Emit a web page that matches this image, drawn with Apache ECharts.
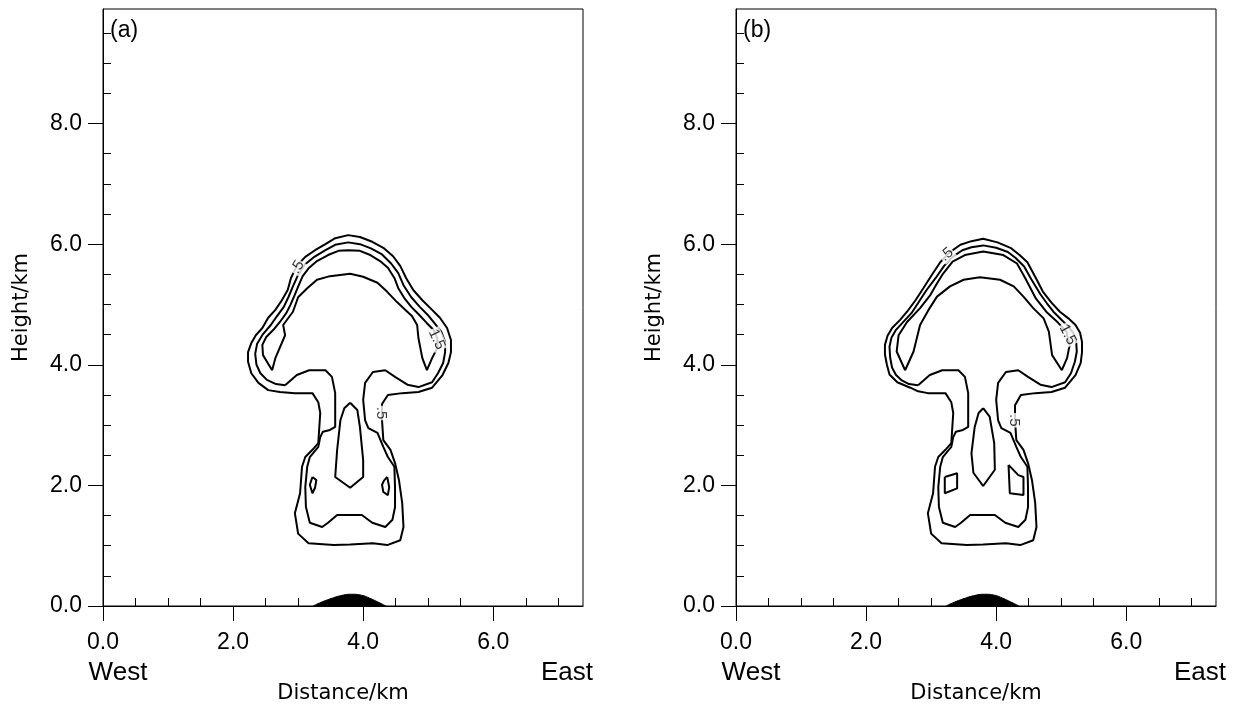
<!DOCTYPE html>
<html>
<head>
<meta charset="utf-8">
<script src="https://cdn.jsdelivr.net/npm/echarts@6/dist/echarts.min.js"></script>
<style>
html, body { margin: 0; padding: 0; background: #fff; }
#main { width: 1244px; height: 709px; }
</style>
</head>
<body>
<div id="main"></div>
<script>
// tick values, km
var xMajor = [0, 2, 4, 6];
var xMinor = [0.5, 1, 1.5, 2.5, 3, 3.5, 4.5, 5, 5.5, 6.5, 7];
var yMajor = [0, 2, 4, 6, 8];
var yMinor = [0.5, 1, 1.5, 2.5, 3, 3.5, 4.5, 5, 5.5, 6.5, 7, 7.5, 8.5, 9, 9.5];

// terrain (same in both panels)
var hillX = [3.23, 3.35, 3.5, 3.65, 3.82, 3.97, 4.1, 4.22, 4.35];
var hillY = [0, 0.06, 0.12, 0.17, 0.195, 0.18, 0.13, 0.07, 0];

// panel (a) contours, [distance km, height km]
var a05 = [[3.80,1.02],[3.55,1.01],[3.16,1.04],[3.00,1.20],[2.95,1.54],[3.03,1.87],[3.06,2.31],[3.11,2.47],[3.22,2.59],[3.31,2.70],[3.34,3.20],[3.31,3.38],[3.22,3.53],[2.95,3.53],[2.72,3.55],[2.54,3.58],[2.39,3.70],[2.28,3.86],[2.23,4.05],[2.23,4.21],[2.28,4.36],[2.35,4.49],[2.45,4.61],[2.54,4.78],[2.65,4.91],[2.75,5.07],[2.84,5.24],[2.89,5.44],[2.98,5.64],[3.11,5.79],[3.26,5.90],[3.42,6.00],[3.57,6.10],[3.77,6.15],[3.95,6.12],[4.14,6.04],[4.31,5.94],[4.46,5.80],[4.57,5.64],[4.66,5.44],[4.77,5.24],[4.91,5.07],[5.06,4.91],[5.18,4.78],[5.29,4.61],[5.35,4.41],[5.35,4.21],[5.31,4.03],[5.22,3.83],[5.06,3.62],[4.85,3.55],[4.60,3.53],[4.38,3.50],[4.29,3.35],[4.29,3.08],[4.31,2.75],[4.42,2.59],[4.49,2.37],[4.55,2.09],[4.60,1.71],[4.62,1.31],[4.57,1.09],[4.37,1.01],[4.15,1.04],[3.80,1.02]];
var a10 = [[2.80,3.66],[2.98,3.83],[3.17,3.91],[3.42,3.91],[3.52,3.80],[3.57,3.53],[3.57,2.97],[3.49,2.92],[3.38,2.89],[3.34,2.80],[3.31,2.64],[3.18,2.47],[3.14,2.31],[3.11,1.97],[3.12,1.64],[3.18,1.38],[3.37,1.31],[3.46,1.38],[3.60,1.51],[3.98,1.51],[4.14,1.38],[4.34,1.31],[4.45,1.43],[4.49,1.64],[4.49,1.97],[4.48,2.31],[4.38,2.47],[4.31,2.64],[4.22,2.87],[4.08,2.95],[4.03,3.08],[4.00,3.42],[4.03,3.70],[4.15,3.88],[4.34,3.91],[4.49,3.80],[4.68,3.67],[4.85,3.63],[5.06,3.71],[5.15,3.86],[5.23,4.03],[5.26,4.21],[5.26,4.38],[5.20,4.55],[5.09,4.70],[4.99,4.83],[4.87,4.96],[4.74,5.12],[4.62,5.32],[4.54,5.52],[4.43,5.68],[4.29,5.83],[4.12,5.93],[3.95,6.00],[3.77,6.03],[3.57,5.99],[3.42,5.90],[3.25,5.79],[3.10,5.66],[3.00,5.49],[2.92,5.30],[2.85,5.12],[2.78,4.96],[2.67,4.80],[2.58,4.66],[2.46,4.51],[2.37,4.35],[2.34,4.18],[2.36,4.00],[2.42,3.86],[2.52,3.75],[2.66,3.68],[2.80,3.66]];
var a15 = [[2.60,3.91],[2.46,4.16],[2.45,4.33],[2.51,4.46],[2.62,4.58],[2.72,4.71],[2.82,4.86],[2.88,4.99],[2.94,5.14],[3.01,5.32],[3.07,5.47],[3.17,5.61],[3.29,5.72],[3.46,5.82],[3.62,5.89],[3.77,5.90],[3.95,5.89],[4.11,5.82],[4.26,5.72],[4.38,5.61],[4.48,5.44],[4.54,5.27],[4.63,5.11],[4.74,4.96],[4.86,4.83],[4.98,4.69],[5.08,4.58],[5.14,4.44],[5.14,4.28],[5.06,4.11],[4.98,3.91],[4.91,4.11],[4.85,4.44],[4.83,4.66],[4.75,4.81],[4.65,4.91],[4.52,5.04],[4.37,5.21],[4.22,5.36],[4.00,5.46],[3.80,5.51],[3.49,5.47],[3.29,5.41],[3.14,5.27],[3.00,5.12],[2.92,4.88],[2.77,4.66],[2.80,4.49],[2.65,4.11],[2.60,3.91]];
var aCore = [[3.80,3.37],[3.91,3.25],[3.95,2.97],[4.00,2.42],[4.00,2.14],[3.80,1.96],[3.57,2.14],[3.60,2.59],[3.65,3.08],[3.71,3.28],[3.80,3.37]];
var aIsleW = [[3.22,2.14],[3.28,2.09],[3.26,1.96],[3.22,1.87],[3.18,2.01],[3.22,2.14]];
var aIsleE = [[4.37,2.14],[4.40,1.97],[4.38,1.84],[4.31,1.89],[4.29,2.01],[4.32,2.08],[4.37,2.14]];
var aLabels = [['.5', 2.99, 5.62], ['1.5', 5.13, 4.42], ['.5', 4.28, 3.20]];

// panel (b) contours
var b05 = [[3.80,1.02],[3.55,1.01],[3.16,1.04],[3.00,1.20],[2.95,1.54],[3.03,1.87],[3.06,2.31],[3.11,2.47],[3.22,2.59],[3.31,2.70],[3.34,3.20],[3.31,3.38],[3.22,3.53],[2.95,3.53],[2.80,3.56],[2.68,3.62],[2.48,3.71],[2.36,3.84],[2.32,4.00],[2.29,4.17],[2.29,4.33],[2.33,4.48],[2.40,4.61],[2.52,4.74],[2.63,4.88],[2.76,5.07],[2.88,5.27],[3.01,5.49],[3.14,5.70],[3.28,5.86],[3.45,5.99],[3.62,6.05],[3.80,6.09],[4.02,6.03],[4.22,5.94],[4.36,5.82],[4.48,5.70],[4.60,5.46],[4.72,5.21],[4.85,5.03],[4.98,4.88],[5.11,4.77],[5.22,4.66],[5.29,4.53],[5.32,4.38],[5.32,4.21],[5.30,4.03],[5.22,3.83],[5.06,3.62],[4.85,3.55],[4.60,3.53],[4.38,3.50],[4.29,3.33],[4.29,3.08],[4.31,2.75],[4.42,2.59],[4.49,2.37],[4.55,2.09],[4.60,1.71],[4.62,1.31],[4.57,1.09],[4.37,1.01],[4.15,1.04],[3.80,1.02]];
var b10 = [[2.80,3.66],[2.98,3.83],[3.17,3.91],[3.42,3.91],[3.52,3.80],[3.57,3.53],[3.57,2.97],[3.49,2.92],[3.38,2.89],[3.34,2.80],[3.31,2.64],[3.18,2.47],[3.14,2.31],[3.11,1.97],[3.12,1.64],[3.18,1.38],[3.37,1.31],[3.46,1.38],[3.60,1.51],[3.98,1.51],[4.14,1.38],[4.34,1.31],[4.45,1.43],[4.49,1.64],[4.49,1.97],[4.48,2.31],[4.38,2.47],[4.31,2.64],[4.22,2.87],[4.08,2.95],[4.03,3.08],[4.00,3.42],[4.03,3.70],[4.15,3.88],[4.34,3.91],[4.49,3.80],[4.68,3.67],[4.85,3.63],[5.06,3.71],[5.15,3.86],[5.21,4.05],[5.24,4.22],[5.23,4.38],[5.19,4.52],[5.12,4.62],[5.00,4.75],[4.88,4.88],[4.78,5.02],[4.68,5.17],[4.54,5.42],[4.43,5.63],[4.30,5.77],[4.18,5.87],[4.00,5.94],[3.80,5.98],[3.62,5.95],[3.48,5.90],[3.33,5.79],[3.20,5.64],[3.07,5.44],[2.93,5.24],[2.81,5.04],[2.70,4.86],[2.58,4.72],[2.46,4.58],[2.39,4.45],[2.36,4.30],[2.37,4.12],[2.40,3.95],[2.46,3.83],[2.55,3.74],[2.66,3.68],[2.80,3.66]];
var b15 = [[2.60,3.91],[2.47,4.22],[2.50,4.49],[2.63,4.71],[2.83,4.94],[2.99,5.16],[3.08,5.33],[3.17,5.49],[3.33,5.71],[3.52,5.82],[3.80,5.88],[4.11,5.82],[4.32,5.68],[4.45,5.43],[4.61,5.10],[4.77,4.88],[4.95,4.70],[5.08,4.55],[5.13,4.33],[5.09,4.11],[5.01,3.91],[4.86,4.16],[4.81,4.55],[4.73,4.77],[4.57,4.94],[4.42,5.13],[4.27,5.30],[4.06,5.41],[3.75,5.45],[3.50,5.41],[3.29,5.30],[3.09,5.13],[2.96,4.91],[2.83,4.66],[2.73,4.22],[2.60,3.91]];
var bCore = [[3.80,3.28],[3.90,3.14],[3.97,2.70],[3.98,2.26],[3.80,1.99],[3.65,2.21],[3.62,2.53],[3.67,2.97],[3.73,3.20],[3.80,3.28]];
var bIsleW = [[3.21,2.14],[3.40,2.20],[3.40,1.95],[3.21,1.87],[3.21,2.14]];
var bIsleE = [[4.19,2.34],[4.34,2.17],[4.42,2.14],[4.42,1.84],[4.21,1.87],[4.19,2.34]];
var bLabels = [['.5', 3.24, 5.83], ['1.5', 5.10, 4.50], ['.5', 4.28, 3.08]];

var FONT = 'Liberation Sans, Arial, sans-serif';
var labelRot = [[58, -65, -90], [40, -62, -90]];

var myChart = echarts.init(document.getElementById('main'));

function axisPair(gi, isX) {
    var major = isX ? xMajor : yMajor;
    var minor = isX ? xMinor : yMinor;
    var maxV = isX ? 7.38 : 9.9;
    return [{
        gridIndex: gi, type: 'value', min: 0, max: maxV,
        axisLine: { show: true, onZero: false, lineStyle: { color: '#000', width: 1 } },
        axisTick: { show: true, customValues: major, length: 15, lineStyle: { color: '#000', width: 1 } },
        axisLabel: {
            customValues: major, margin: isX ? 25 : 21, color: '#000', fontSize: 23, fontFamily: FONT,
            formatter: function (v) { return v.toFixed(1); }
        },
        splitLine: { show: false },
        name: isX ? 'Distance/km' : 'Height/km',
        nameLocation: 'middle', nameGap: isX ? 77 : 71,
        nameTextStyle: { color: '#000', fontSize: 21, fontFamily: 'DejaVu Sans' }
    }, {
        gridIndex: gi, type: 'value', min: 0, max: maxV,
        axisLine: { show: false },
        axisTick: { show: true, customValues: minor, length: 8, lineStyle: { color: '#000', width: 1 } },
        axisLabel: { show: false },
        splitLine: { show: false }
    }];
}

function contour(data, gi) {
    return {
        type: 'line', xAxisIndex: gi * 2, yAxisIndex: gi * 2, data: data,
        symbol: 'none', silent: true, z: 3,
        lineStyle: { color: '#000', width: 2 }
    };
}

var series = [];
[[a05, a10, a15, aCore, aIsleW, aIsleE, aLabels], [b05, b10, b15, bCore, bIsleW, bIsleE, bLabels]].forEach(function (p, gi) {
    for (var k = 0; k < 6; k++) series.push(contour(p[k], gi));
    series.push({
        type: 'line', xAxisIndex: gi * 2, yAxisIndex: gi * 2, smooth: 0.5,
        symbol: 'none', silent: true, z: 4,
        data: hillX.map(function (x, i) { return [x, hillY[i]]; }),
        lineStyle: { color: '#000', width: 1 },
        areaStyle: { color: '#000', opacity: 1 }
    });
    series.push({
        type: 'scatter', xAxisIndex: gi * 2, yAxisIndex: gi * 2, symbolSize: 1, silent: true, z: 10,
        itemStyle: { color: 'rgba(0,0,0,0)' },
        label: {
            show: true, position: 'inside', formatter: '{b}', color: '#000', fontSize: 15,
            fontFamily: FONT, backgroundColor: '#fff', padding: [0, 1]
        },
        data: p[6].map(function (l, i) {
            return { name: l[0], value: [l[1], l[2]], label: { rotate: labelRot[gi][i] } };
        })
    });
});

var option = {
    animation: false,
    backgroundColor: '#fff',
    grid: [
        { left: 103, top: 9, width: 480, height: 597, show: true, borderColor: '#000', borderWidth: 1 },
        { left: 736, top: 9, width: 480, height: 597, show: true, borderColor: '#000', borderWidth: 1 }
    ],
    xAxis: axisPair(0, true).concat(axisPair(1, true)),
    yAxis: axisPair(0, false).concat(axisPair(1, false)),
    series: series,
    graphic: [
        { type: 'text', left: 110, top: 19, style: { text: '(a)', font: '23px ' + FONT, fill: '#000' } },
        { type: 'text', left: 743, top: 19, style: { text: '(b)', font: '23px ' + FONT, fill: '#000' } },
        { type: 'text', x: 118, y: 673, style: { text: 'West', font: '26px ' + FONT, fill: '#000', align: 'center', verticalAlign: 'middle' } },
        { type: 'text', x: 567, y: 673, style: { text: 'East', font: '26px ' + FONT, fill: '#000', align: 'center', verticalAlign: 'middle' } },
        { type: 'text', x: 751, y: 673, style: { text: 'West', font: '26px ' + FONT, fill: '#000', align: 'center', verticalAlign: 'middle' } },
        { type: 'text', x: 1200, y: 673, style: { text: 'East', font: '26px ' + FONT, fill: '#000', align: 'center', verticalAlign: 'middle' } }
    ]
};

if (option && typeof option === 'object') {
    myChart.setOption(option, true);
}
</script>
</body>
</html>
